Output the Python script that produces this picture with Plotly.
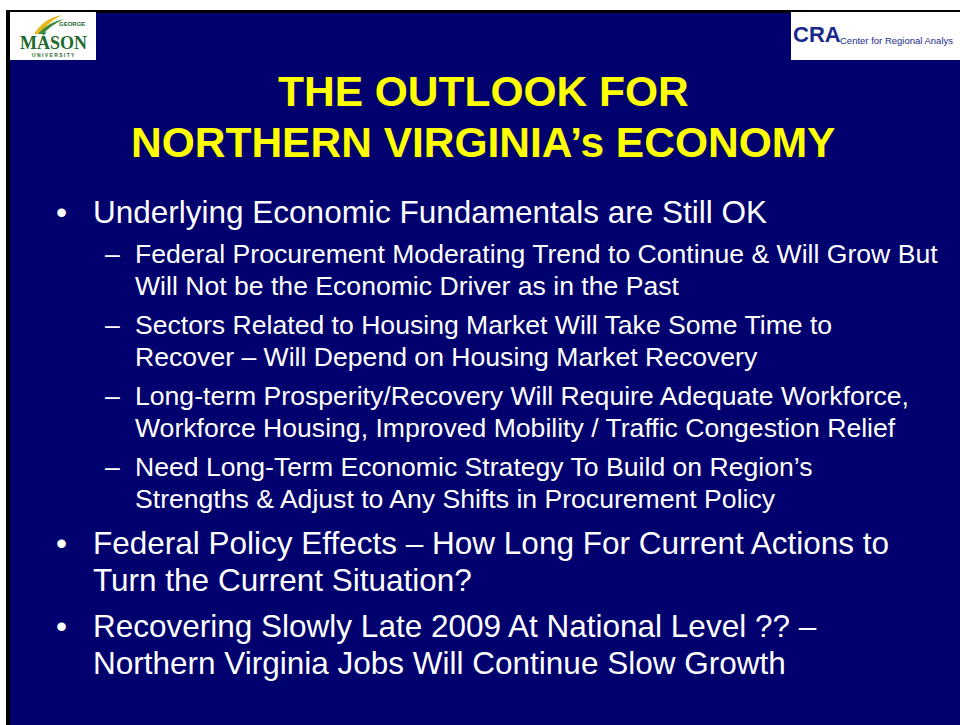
import plotly.graph_objects as go

title_lines = ["THE OUTLOOK FOR", "NORTHERN VIRGINIA\u2019s ECONOMY"]

# (level, lines of text)
bullets = [
    (1, ["Underlying Economic Fundamentals are Still OK"]),
    (2, ["Federal Procurement Moderating Trend to Continue & Will Grow But",
         "Will Not be the Economic Driver as in the Past"]),
    (2, ["Sectors Related to Housing Market Will Take Some Time to",
         "Recover \u2013 Will Depend on Housing Market Recovery"]),
    (2, ["Long-term Prosperity/Recovery Will Require Adequate Workforce,",
         "Workforce Housing, Improved Mobility / Traffic Congestion Relief"]),
    (2, ["Need Long-Term Economic Strategy To Build on Region\u2019s",
         "Strengths & Adjust to Any Shifts in Procurement Policy"]),
    (1, ["Federal Policy Effects \u2013 How Long For Current Actions to",
         "Turn the Current Situation?"]),
    (1, ["Recovering Slowly Late 2009 At National Level ?? \u2013",
         "Northern Virginia Jobs Will Continue Slow Growth"]),
]

NAVY = "#00006E"
FONT = "Liberation Sans, Arial, sans-serif"

# gap between the last line of one item and the first line of the next
GAPS = {(1, 2): 42, (2, 2): 39, (2, 1): 44, (1, 1): 46}

fig = go.Figure()

# background slide
fig.add_shape(type="rect", x0=0, x1=960, y0=0, y1=725, fillcolor="white", line_width=0, layer="below")
fig.add_shape(type="rect", x0=6, x1=960, y0=10, y1=725, fillcolor="black", line_width=0, layer="below")
fig.add_shape(type="rect", x0=10, x1=960, y0=13, y1=730, fillcolor=NAVY, line_width=0, layer="below")

# GMU logo
fig.add_shape(type="rect", x0=10, x1=96, y0=12, y1=60, fillcolor="white", line_width=0)
fig.add_shape(type="path", path="M 34 34 Q 44 18 62 15 Q 48 22 40 34 Z",
              fillcolor="#E8B820", line_width=0)
fig.add_shape(type="path", path="M 38 34 Q 48 22 64 19 Q 50 26 43 34 Z",
              fillcolor="#3C8C3C", line_width=0)
fig.add_annotation(x=72, y=24, text="<b>GEORGE</b>", showarrow=False,
                   font=dict(family=FONT, size=6, color="#1E6B2E"), xanchor="center", yanchor="middle")
fig.add_annotation(x=53, y=42, text="<b>M\u00c1SON</b>", showarrow=False,
                   font=dict(family="Liberation Serif, serif", size=18, color="#1E6B2E"),
                   xanchor="center", yanchor="middle")
fig.add_annotation(x=53, y=55, text="<b>U N I V E R S I T Y</b>", showarrow=False,
                   font=dict(family=FONT, size=5, color="#1E6B2E"), xanchor="center", yanchor="middle")

# CRA logo
fig.add_shape(type="rect", x0=791, x1=960, y0=12, y1=60, fillcolor="white", line_width=0)
fig.add_annotation(x=791, y=34, text="<b>CRA</b>", showarrow=False,
                   font=dict(family=FONT, size=22, color="#1A2A8C"),
                   xanchor="left", yanchor="middle")
fig.add_annotation(x=838, y=40, text="Center for Regional Analys", showarrow=False,
                   font=dict(family=FONT, size=9.5, color="#1A2A8C"),
                   xanchor="left", yanchor="middle")

# title
for i, line in enumerate(title_lines):
    fig.add_annotation(x=483, y=91 + i * 51, text="<b>" + line + "</b>", showarrow=False,
                       font=dict(family=FONT, size=42.5, color="#FFFF00"),
                       xanchor="center", yanchor="middle")

# bullets
y = 212
prev = None
for level, lines in bullets:
    if prev is not None:
        y += GAPS[(prev, level)]
    if level == 1:
        size, step, mark, mx, tx = 31.5, 37, "\u2022", 54, 91
    else:
        size, step, mark, mx, tx = 26.6, 32, "\u2013", 103, 133
    fig.add_annotation(x=mx, y=y, text=mark, showarrow=False,
                       font=dict(family=FONT, size=size, color="white"), xanchor="left", yanchor="middle")
    for j, line in enumerate(lines):
        fig.add_annotation(x=tx, y=y + j * step, text=line, showarrow=False,
                           font=dict(family=FONT, size=size, color="white"),
                           xanchor="left", yanchor="middle")
    y += step * (len(lines) - 1)
    prev = level

fig.update_layout(
    width=960, height=725,
    margin=dict(l=0, r=0, t=0, b=0),
    paper_bgcolor=NAVY, plot_bgcolor=NAVY,
    xaxis=dict(range=[0, 960], visible=False, fixedrange=True),
    yaxis=dict(range=[725, 0], visible=False, fixedrange=True),
    showlegend=False,
)

fig.write_html("out.html", config={"displayModeBar": False},
               post_script="document.body.style.margin='0';document.body.style.overflow='hidden';")
